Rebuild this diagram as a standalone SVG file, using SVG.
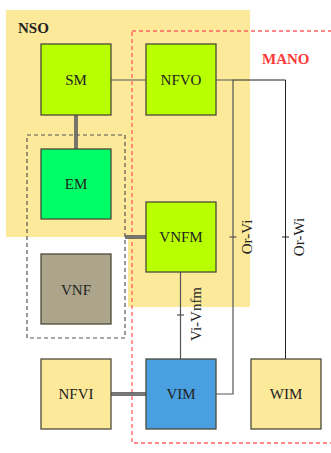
<svg xmlns="http://www.w3.org/2000/svg" width="331" height="453" viewBox="0 0 331 453">
<style>
.box{stroke:#4a4a3a;stroke-width:1.3}
.lbl{font-family:"Liberation Serif",serif;font-size:15px;fill:#222;text-anchor:middle}
.ttl{font-family:"Liberation Serif",serif;font-size:15px;font-weight:bold}
.ln{fill:none;stroke:#555;stroke-width:1.2}
.ln2{fill:none;stroke:#222;stroke-width:1}
.dbo{fill:none;stroke:#444;stroke-width:3.4}
.dbi{fill:none;stroke:#8a8a8a;stroke-width:1.4}
</style>
<rect width="331" height="453" fill="#fff"/>
<g id="nso">
<polygon points="6,10 250,10 250,307 128,307 128,237 6,237" fill="#fce99a"/>
<text class="ttl" x="18" y="33" fill="#222">NSO</text>
</g>
<g id="mano">
<rect x="132" y="31" width="210" height="412" fill="none" stroke="#ff6060" stroke-width="1.3" stroke-dasharray="4,3"/>
<text class="ttl" x="262" y="64" fill="#ff3a3a">MANO</text>
</g>
<g id="vnf-group">
<rect x="27" y="135" width="98" height="203" fill="none" stroke="#555" stroke-width="1.2" stroke-dasharray="4,3"/>
</g>
<g id="connectors">
<line class="ln" x1="111" y1="80" x2="146" y2="80"/>
<path class="ln" d="M216 80 H233 V394 H216"/>
<path class="ln2" d="M233 80 H285.5 V359"/>
<line class="ln" x1="180.5" y1="272" x2="180.5" y2="359"/>
<line class="dbo" x1="76" y1="115" x2="76" y2="149"/>
<line class="dbi" x1="76" y1="115" x2="76" y2="149"/>
<line class="dbo" x1="125" y1="237" x2="146" y2="237"/>
<line class="dbi" x1="125" y1="237" x2="146" y2="237"/>
<line class="dbo" x1="111" y1="394" x2="146" y2="394"/>
<line class="dbi" x1="111" y1="394" x2="146" y2="394"/>
<line class="ln" x1="229.5" y1="237" x2="236.5" y2="237"/>
<line class="ln2" x1="282" y1="237" x2="289" y2="237"/>
<line class="ln" x1="177" y1="315" x2="184" y2="315"/>
<text class="lbl" transform="translate(252,237) rotate(-90)">Or-Vi</text>
<text class="lbl" transform="translate(304,237) rotate(-90)">Or-Wi</text>
<text class="lbl" transform="translate(201,314) rotate(-90)">Vi-Vnfm</text>
</g>
<g id="sm"><rect class="box" x="41" y="44" width="70" height="71" fill="#b8ff00"/><text class="lbl" x="76" y="85">SM</text></g>
<g id="nfvo"><rect class="box" x="146" y="44" width="70" height="71" fill="#b8ff00"/><text class="lbl" x="181" y="85">NFVO</text></g>
<g id="em"><rect class="box" x="41" y="149" width="70" height="70" fill="#00ff66"/><text class="lbl" x="76" y="189">EM</text></g>
<g id="vnfm"><rect class="box" x="146" y="202" width="70" height="70" fill="#b8ff00"/><text class="lbl" x="181" y="242">VNFM</text></g>
<g id="vnf"><rect class="box" x="41" y="254" width="70" height="70" fill="#ada58b"/><text class="lbl" x="76" y="295">VNF</text></g>
<g id="nfvi"><rect class="box" x="41" y="359" width="70" height="70" fill="#fce99a"/><text class="lbl" x="76" y="399">NFVI</text></g>
<g id="vim"><rect class="box" x="146" y="359" width="70" height="70" fill="#4a9fe0"/><text class="lbl" x="181" y="399">VIM</text></g>
<g id="wim"><rect class="box" x="251" y="359" width="70" height="70" fill="#fce99a"/><text class="lbl" x="286" y="399">WIM</text></g>
</svg>
